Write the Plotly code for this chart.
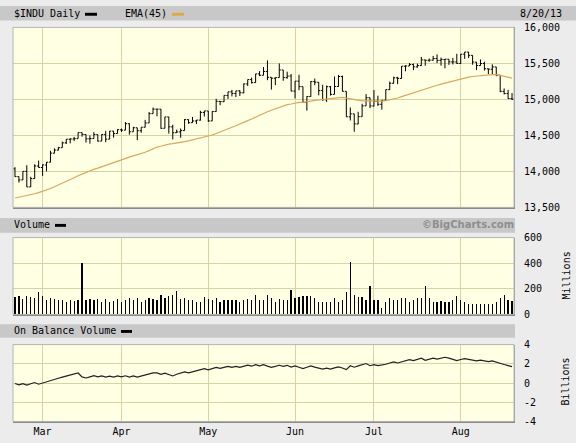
import pandas as pd
import plotly.graph_objects as go

# ---------------- data ----------------
holidays = ["2013-03-29", "2013-05-27", "2013-07-04"]
dates = [d.strftime("%Y-%m-%d") for d in pd.bdate_range("2013-02-20", "2013-08-20")
         if d.strftime("%Y-%m-%d") not in holidays]

opens = [14035,13927,13881,14000,13784,13900,14075,
         14054,14089,14128,14253,14296,14329,14397,14446,14450,14455,14539,14512,14452,14456,14511,14421,14511,14448,14560,14526,
         14578,14573,14662,14550,14606,14565,14613,14673,14802,14865,14865,14599,14756,14618,14537,14548,14567,14719,14676,14700,14712,14818,
         14839,14701,14831,14973,14968,15055,15105,15082,15118,15091,15215,15275,15233,15354,15335,15387,15307,15294,15303,15409,15302,15324,
         15115,15254,15177,14960,15040,15248,15238,15122,14995,15176,15070,15179,15318,15112,14758,14799,14659,14760,14910,15024,
         14909,14975,14932,14988,15135,15224,15300,15291,15461,15464,15484,15451,15470,15548,15543,15545,15567,15542,15555,15558,15521,15520,
         15499,15628,15658,15612,15518,15470,15498,15425,15419,15451,15337,15112,15081,15010]
highs = [14059,13930,14001,14086,13925,14099,14150,
         14097,14130,14286,14320,14340,14414,14448,14460,14480,14540,14540,14514,14500,14546,14512,14516,14563,14561,14560,14585,
         14595,14684,14668,14620,14606,14613,14716,14826,14887,14865,14865,14757,14757,14649,14580,14596,14726,14722,14756,14713,14842,14840,
         14840,14836,15009,14974,15057,15106,15133,15119,15128,15222,15276,15303,15355,15393,15450,15542,15307,15304,15499,15409,15385,15352,
         15255,15342,15178,15045,15254,15290,15239,15203,15193,15186,15318,15340,15331,15112,14888,14799,14828,14940,15074,15024,
         15131,15052,14993,15136,15247,15316,15313,15463,15474,15505,15498,15498,15590,15549,15567,15604,15626,15581,15559,15559,15577,15634,
         15630,15659,15658,15612,15519,15555,15523,15427,15487,15451,15338,15152,15132,15087]
lows = [13925,13845,13880,13784,13784,13897,14053,
        13937,14000,14128,14250,14290,14329,14380,14390,14420,14455,14483,14400,14385,14456,14413,14421,14406,14448,14469,14526,
        14547,14573,14510,14550,14434,14536,14611,14673,14802,14765,14592,14599,14525,14444,14537,14467,14567,14662,14676,14658,14705,14762,
        14687,14701,14828,14919,14965,15007,15041,15033,15048,15085,15185,15220,15233,15323,15335,15267,15136,15198,15303,15259,15287,15115,
        15013,15127,14957,14844,15038,15197,15056,14980,14965,15053,15070,15175,15112,14758,14708,14551,14655,14760,14910,14879,
        14900,14909,14858,14988,15130,15220,15212,15288,15390,15464,15407,15440,15465,15468,15522,15539,15504,15469,15432,15480,15486,15495,
        15495,15563,15574,15482,15408,15469,15400,15351,15351,15322,15100,15069,15010,14992]
closes = [13927,13881,14001,13784,13900,14075,14054,
          14090,14128,14254,14296,14329,14397,14447,14450,14455,14539,14514,14452,14456,14512,14421,14512,14448,14560,14526,14579,
          14573,14662,14550,14606,14565,14613,14673,14802,14865,14865,14599,14757,14619,14537,14548,14567,14719,14676,14701,14713,14819,14840,
          14701,14832,14974,14969,15056,15105,15083,15118,15092,15215,15276,15233,15354,15335,15388,15307,15295,15303,15409,15303,15325,15116,
          15254,15178,14961,15041,15248,15239,15122,14995,15176,15070,15180,15318,15112,14758,14799,14660,14760,14910,15024,14910,
          14975,14932,14988,15136,15225,15300,15292,15461,15464,15484,15452,15471,15549,15544,15546,15568,15542,15556,15559,15522,15521,15500,
          15628,15658,15612,15519,15471,15498,15426,15420,15451,15338,15112,15081,15011,15003]
volumes_m = [135,140,120,145,135,130,175,
             140,115,130,120,110,115,100,115,105,115,405,110,120,115,120,100,120,100,105,120,
             100,115,130,115,130,95,110,125,120,110,150,125,145,150,180,120,125,110,110,100,100,135,
             120,115,125,100,110,110,115,110,100,115,120,115,155,115,115,150,125,95,120,115,110,190,
             125,135,140,140,140,130,100,100,100,100,130,100,115,175,410,155,135,135,110,225,
             115,110,50,95,130,115,110,125,125,100,110,125,130,225,125,100,100,105,95,95,115,140,
             115,100,80,85,85,85,80,80,85,100,125,150,115,105]

ema_period = 45
ema_start = 13630          # EMA value read at the first bar
obv_start = -0.05          # OBV (billions) read at the first bar

month_ticks = ["2013-03-01", "2013-04-01", "2013-05-01", "2013-06-03", "2013-07-01", "2013-08-01"]
month_labels = ["Mar", "Apr", "May", "Jun", "Jul", "Aug"]
price_ticks = [13500, 14000, 14500, 15000, 15500, 16000]
vol_ticks = [0, 200, 400, 600]
obv_ticks = [-4, -2, 0, 2, 4]
obv_labels = ["-4", "-2", "0", "2", "4"]

# derived indicators
alpha = 2.0 / (ema_period + 1)
ema = [ema_start]
for c in closes[1:]:
    ema.append(ema[-1] + alpha * (c - ema[-1]))
obv = [obv_start]
for i in range(1, len(closes)):
    s = 1 if closes[i] > closes[i - 1] else (-1 if closes[i] < closes[i - 1] else 0)
    obv.append(obv[-1] + s * volumes_m[i] / 1000.0)

# ---------------- figure ----------------
W, H = 576, 443
def py(p):
    return 1 - p / H
def px(p):
    return p / W

FONT = "DejaVu Sans Mono"
PLOT_BG = "#ffffe4"
GRID = "#d4d4a4"
PAPER = "#ececec"
BAND = "#c8c8c8"

fig = go.Figure()
fig.add_trace(go.Ohlc(x=dates, open=opens, high=highs, low=lows, close=closes,
                      increasing=dict(line=dict(color="black", width=1)),
                      decreasing=dict(line=dict(color="black", width=1)),
                      tickwidth=0.4, xaxis="x", yaxis="y", hoverinfo="skip"))
fig.add_trace(go.Scatter(x=dates, y=ema, mode="lines", line=dict(color="#dba65c", width=1.2),
                         xaxis="x", yaxis="y", hoverinfo="skip"))
fig.add_trace(go.Bar(x=dates, y=volumes_m, marker=dict(color="black", line=dict(width=0)),
                     width=0.32, xaxis="x2", yaxis="y2", hoverinfo="skip"))
fig.add_trace(go.Scatter(x=dates, y=obv, mode="lines", line=dict(color="#222222", width=1.2),
                         xaxis="x3", yaxis="y3", hoverinfo="skip"))

xdom = [px(13), px(514)]
xcommon = dict(type="category", categoryorder="array", categoryarray=dates,
               range=[-0.5, len(dates) - 0.5], domain=xdom,
               tickmode="array", tickvals=month_ticks, ticktext=month_labels,
               showgrid=True, gridcolor=GRID, gridwidth=1, zeroline=False,
               showline=True, linecolor="#8a8a8a", linewidth=2, ticks="", fixedrange=True)
ycommon = dict(side="right", showgrid=True, gridcolor=GRID, gridwidth=1, zeroline=False,
               showline=True, linecolor="#9a9a9a", linewidth=1,
               ticks="outside", ticklen=7, tickcolor="rgba(0,0,0,0)",
               tickfont=dict(family=FONT, size=10, color="black"), fixedrange=True)

fig.update_layout(
    width=W, height=H, margin=dict(l=0, r=0, t=0, b=0),
    paper_bgcolor=PAPER, plot_bgcolor=PLOT_BG, showlegend=False, bargap=0,
    font=dict(family=FONT, size=10, color="black"),
    xaxis=dict(xcommon, anchor="y", showticklabels=False, rangeslider=dict(visible=False)),
    xaxis2=dict(xcommon, anchor="y2", matches="x", showticklabels=False),
    xaxis3=dict(xcommon, anchor="y3", matches="x", showticklabels=True,
                tickfont=dict(family=FONT, size=10, color="black")),
    yaxis=dict(ycommon, anchor="x", domain=[py(207), py(22)], range=[13500, 16000],
               tickmode="array", tickvals=price_ticks, tickformat=",d"),
    yaxis2=dict(ycommon, anchor="x2", domain=[py(317), py(238)], range=[0, 600],
                tickmode="array", tickvals=vol_ticks),
    yaxis3=dict(ycommon, anchor="x3", domain=[py(427), py(348)], range=[-4, 4],
                tickmode="array", tickvals=obv_ticks, ticktext=obv_labels),
)

shapes = [
    dict(type="rect", xref="paper", yref="paper", x0=0, x1=1, y0=py(15), y1=1,
         fillcolor=BAND, line=dict(width=0), layer="below"),
    dict(type="rect", xref="paper", yref="paper", x0=0, x1=px(515), y0=py(233), y1=py(218),
         fillcolor=BAND, line=dict(width=0), layer="below"),
    dict(type="rect", xref="paper", yref="paper", x0=0, x1=px(515), y0=py(341), y1=py(327),
         fillcolor=BAND, line=dict(width=0), layer="below"),
    # legend swatches
    dict(type="rect", xref="paper", yref="paper", x0=px(85), x1=px(97), y0=py(10), y1=py(7),
         fillcolor="black", line=dict(width=0)),
    dict(type="rect", xref="paper", yref="paper", x0=px(172), x1=px(184), y0=py(10), y1=py(7),
         fillcolor="#e0a848", line=dict(width=0)),
    dict(type="rect", xref="paper", yref="paper", x0=px(55), x1=px(66), y0=py(227), y1=py(224),
         fillcolor="black", line=dict(width=0)),
    dict(type="rect", xref="paper", yref="paper", x0=px(121), x1=px(132), y0=py(336), y1=py(333),
         fillcolor="black", line=dict(width=0)),
]
for xr, yr in (("x", "y"), ("x2", "y2"), ("x3", "y3")):
    shapes.append(dict(type="rect", xref=xr + " domain", yref=yr + " domain", x0=0, x1=1, y0=0, y1=1,
                       line=dict(color="#b4b4b4", width=1), fillcolor="rgba(0,0,0,0)", layer="above"))
fig.update_layout(shapes=shapes)

def ann(text, x, y, xanchor="left", **kw):
    d = dict(text=text, x=px(x), y=py(y), xref="paper", yref="paper", showarrow=False,
             xanchor=xanchor, yanchor="middle", font=dict(family=FONT, size=10, color="black"))
    d.update(kw)
    return d

annotations = [
    ann("$INDU Daily", 12, 8),
    ann("EMA(45)", 123, 8),
    ann("8/20/13", 564, 8, xanchor="right"),
    ann("Volume", 12, 225),
    ann("On Balance Volume", 12, 334),
    ann("©BigCharts.com", 468, 225, xanchor="center",
        font=dict(family="DejaVu Sans", size=10, color="#8e8e8e", weight="bold")),
    ann("Millions", 566, 277, xanchor="center", textangle=-90),
    ann("Billions", 566, 386, xanchor="center", textangle=-90),
]
fig.update_layout(annotations=annotations)

fig.write_html("out.html", config={"displayModeBar": False, "staticPlot": True},
               post_script="document.body.style.margin='0';document.body.style.overflow='hidden';")
